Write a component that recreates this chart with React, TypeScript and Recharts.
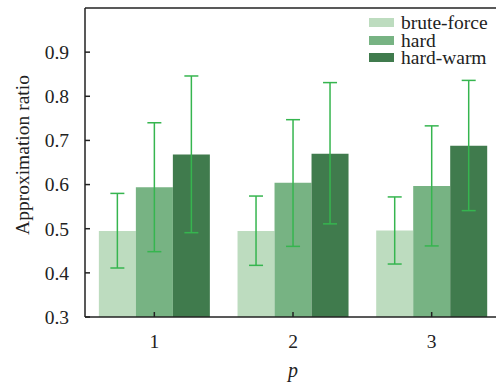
import { BarChart, Bar, XAxis, YAxis, ErrorBar, ReferenceLine } from "recharts";

const categories = ["1", "2", "3"];

const bruteForce = [0.495, 0.495, 0.496];
const bruteForceLow = [0.411, 0.417, 0.42];
const bruteForceHigh = [0.58, 0.574, 0.572];

const hard = [0.594, 0.604, 0.597];
const hardLow = [0.448, 0.46, 0.461];
const hardHigh = [0.74, 0.747, 0.733];

const hardWarm = [0.668, 0.67, 0.688];
const hardWarmLow = [0.491, 0.511, 0.541];
const hardWarmHigh = [0.846, 0.831, 0.836];

const yTicks = [0.3, 0.4, 0.5, 0.6, 0.7, 0.8, 0.9];

const data = categories.map((p, i) => ({
  p,
  bf: bruteForce[i],
  bfErr: [bruteForce[i] - bruteForceLow[i], bruteForceHigh[i] - bruteForce[i]],
  hard: hard[i],
  hardErr: [hard[i] - hardLow[i], hardHigh[i] - hard[i]],
  warm: hardWarm[i],
  warmErr: [hardWarm[i] - hardWarmLow[i], hardWarmHigh[i] - hardWarm[i]],
}));

const FONT = "Liberation Serif";
const ERR = "#36b54f";
const AXIS = "#222";

const legendItems = [
  { name: "brute-force", color: "#bddcbf" },
  { name: "hard", color: "#77b383" },
  { name: "hard-warm", color: "#407b4d" },
];

// legend sits in the plot's top-right corner, rows packed tight like the original
function LegendBox() {
  return (
    <div style={{ position: "absolute", left: 369, top: 14, fontFamily: FONT, fontSize: 19.5, color: "#222" }}>
      {legendItems.map((it) => (
        <div key={it.name} style={{ display: "flex", alignItems: "center", height: 17.5 }}>
          <span style={{ width: 25, height: 9, background: it.color, marginRight: 7, display: "inline-block" }} />
          <span style={{ display: "inline-block", height: 17.5, lineHeight: "17.5px" }}>{it.name}</span>
        </div>
      ))}
    </div>
  );
}

export default function App() {
  return (
    <div style={{ position: "relative", width: 502, height: 385, overflow: "hidden", fontFamily: FONT }}>
      <style>{`body{margin:0;overflow:hidden;}`}</style>
      <BarChart
        width={502}
        height={385}
        data={data}
        margin={{ top: 8, right: 1, left: 0, bottom: 0 }}
        barCategoryGap="10%"
        barGap={0}
      >
        <XAxis
          dataKey="p"
          height={68}
          tickSize={-5}
          tickMargin={22}
          stroke={AXIS}
          strokeWidth={1.5}
          tick={{ fill: AXIS, fontSize: 19.5, fontFamily: FONT }}
          label={{ value: "p", position: "insideBottom", offset: 8, fill: AXIS, fontSize: 20, fontFamily: FONT, fontStyle: "italic" }}
        />
        <YAxis
          width={85}
          domain={[0.3, 1.0]}
          ticks={yTicks}
          tickSize={-5}
          tickMargin={21}
          stroke={AXIS}
          strokeWidth={1.5}
          tick={{ fill: AXIS, fontSize: 19.5, fontFamily: FONT }}
          tickFormatter={(v: number) => v.toFixed(1)}
          label={{
            content: () => (
              <text
                x={22}
                y={155}
                transform="rotate(-90 22 155)"
                textAnchor="middle"
                dominantBaseline="central"
                fill={AXIS}
                fontSize={19.5}
                fontFamily={FONT}
              >
                Approximation ratio
              </text>
            ),
          }}
        />
        <ReferenceLine y={1.0} stroke={AXIS} strokeWidth={1.5} />
        <Bar dataKey="bf" name="brute-force" fill="#bddcbf" isAnimationActive={false}>
          <ErrorBar dataKey="bfErr" width={7} stroke={ERR} strokeWidth={1.5} />
        </Bar>
        <Bar dataKey="hard" name="hard" fill="#77b383" isAnimationActive={false}>
          <ErrorBar dataKey="hardErr" width={7} stroke={ERR} strokeWidth={1.5} />
        </Bar>
        <Bar dataKey="warm" name="hard-warm" fill="#407b4d" isAnimationActive={false}>
          <ErrorBar dataKey="warmErr" width={7} stroke={ERR} strokeWidth={1.5} />
        </Bar>
      </BarChart>
      <LegendBox />
    </div>
  );
}
